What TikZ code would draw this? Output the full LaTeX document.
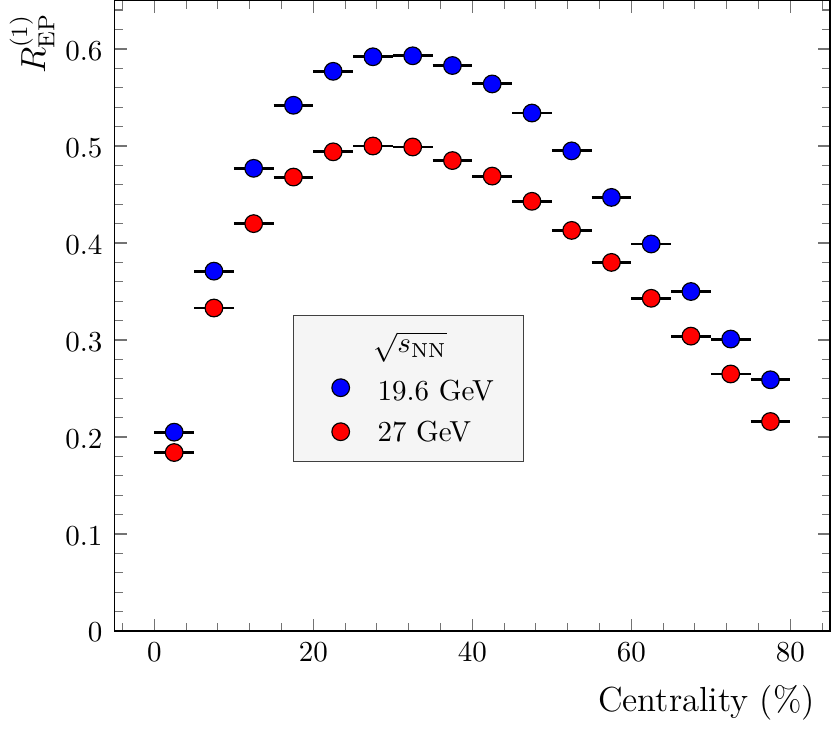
\documentclass[tikz,border=0pt]{standalone}
\usepackage{amsmath}
\begin{document}
\begin{tikzpicture}[x=0.345pt,y=-0.345pt,
  ebar/.style={line width=1pt, black},
  bluemk/.style={circle, draw=black, line width=0.4pt, fill=blue, minimum size=6.1pt, inner sep=0pt},
  redmk/.style={bluemk, fill=red},
  tickmin/.style={black!55, line width=0.4pt},
  tickmaj/.style={black!55, line width=0.4pt},
  axframe/.style={black, line width=0.6pt},
  ticklab/.style={inner sep=0pt, font=\normalsize},
  legbox/.style={draw=black!75, fill=black!4, line width=0.5pt, inner sep=0pt}]
\useasboundingbox (0,0) rectangle (831,732);
\begin{scope}[x=2.74275pt, y=334.65pt, shift={(53.2335pt,-217.695pt)}]
  % minor ticks
  \foreach \x in {-4,0,...,84} {
    \draw[tickmin] (\x,0) -- ++(0,2.85pt);
    \draw[tickmin] (\x,0.65) -- ++(0,-2.85pt);
  }
  \foreach \i [evaluate=\i as \yy using \i*0.02] in {1,...,32} {
    \draw[tickmin] (-5,\yy) -- ++(2.85pt,0);
    \draw[tickmin] (85,\yy) -- ++(-2.85pt,0);
  }
  % major ticks
  \foreach \x in {0,20,...,80} {
    \draw[tickmaj] (\x,0) -- ++(0,4.27pt);
    \draw[tickmaj] (\x,0.65) -- ++(0,-4.27pt);
    \node[ticklab, anchor=base] (xl\x) at ([yshift=-10.6pt]\x,0) {$\x$};
  }
  \foreach \v in {0,0.1,0.2,0.3,0.4,0.5,0.6} {
    \draw[tickmaj] (-5,\v) -- ++(4.27pt,0);
    \draw[tickmaj] (85,\v) -- ++(-4.27pt,0);
  }
  \node[ticklab, anchor=base east] (yl0) at ([xshift=-4pt,yshift=-3.7pt]-5,0) {$0$};
  \foreach \v in {0.1,0.2,0.3,0.4,0.5,0.6} {
    \node[ticklab, anchor=base east] (yl\v) at ([xshift=-4pt,yshift=-4pt]-5,\v) {$\v$};
  }
  % blue data
  \foreach \x/\y [count=\n] in {2.5/0.205, 7.5/0.371, 12.5/0.477, 17.5/0.542, 22.5/0.577, 27.5/0.592, 32.5/0.593, 37.5/0.583, 42.5/0.564, 47.5/0.534, 52.5/0.495, 57.5/0.447, 62.5/0.399, 67.5/0.350, 72.5/0.301, 77.5/0.259} {
    \coordinate (bl\n) at (\x-2.5,\y);
    \coordinate (br\n) at (\x+2.5,\y);
    \draw[ebar] (bl\n) -- (br\n);
  }
  \foreach \x/\y [count=\n] in {2.5/0.205, 7.5/0.371, 12.5/0.477, 17.5/0.542, 22.5/0.577, 27.5/0.592, 32.5/0.593, 37.5/0.583, 42.5/0.564, 47.5/0.534, 52.5/0.495, 57.5/0.447, 62.5/0.399, 67.5/0.350, 72.5/0.301, 77.5/0.259} {
    \node[bluemk] (b\n) at (\x,\y) {};
  }
  % red data
  \foreach \x/\y [count=\n] in {2.5/0.184, 7.5/0.333, 12.5/0.420, 17.5/0.468, 22.5/0.494, 27.5/0.500, 32.5/0.499, 37.5/0.485, 42.5/0.469, 47.5/0.443, 52.5/0.413, 57.5/0.380, 62.5/0.343, 67.5/0.304, 72.5/0.265, 77.5/0.216} {
    \coordinate (rl\n) at (\x-2.5,\y);
    \coordinate (rr\n) at (\x+2.5,\y);
    \draw[ebar] (rl\n) -- (rr\n);
  }
  \foreach \x/\y [count=\n] in {2.5/0.184, 7.5/0.333, 12.5/0.420, 17.5/0.468, 22.5/0.494, 27.5/0.500, 32.5/0.499, 37.5/0.485, 42.5/0.469, 47.5/0.443, 52.5/0.413, 57.5/0.380, 62.5/0.343, 67.5/0.304, 72.5/0.265, 77.5/0.216} {
    \node[redmk] (r\n) at (\x,\y) {};
  }
  \draw[axframe] (-5,0) rectangle (85,0.65);
\end{scope}
% legend
\node[legbox, minimum width=79.5pt, minimum height=50.2pt] (legend) at (408.5,388.5) {};
\node (legtitle) at (410,347) {$\sqrt{s_{\mathrm{NN}}}$};
\node[bluemk] (lb) at (340.7,387.7) {};
\node[anchor=base west, inner sep=0pt] (lbt) at (377,400) {19.6 GeV};
\node[redmk] (lr) at (340.7,431.7) {};
\node[anchor=base west, inner sep=0pt] (lrt) at (377,441.7) {27 GeV};
% axis labels
\node[rotate=90, anchor=base, font=\large] (ylab) at (45,43.5) {$R^{(1)}_{\mathrm{EP}}$};
\node[anchor=base, font=\large] (xlab) at (706.5,711.7) {Centrality (\%)};
\end{tikzpicture}
\end{document}
